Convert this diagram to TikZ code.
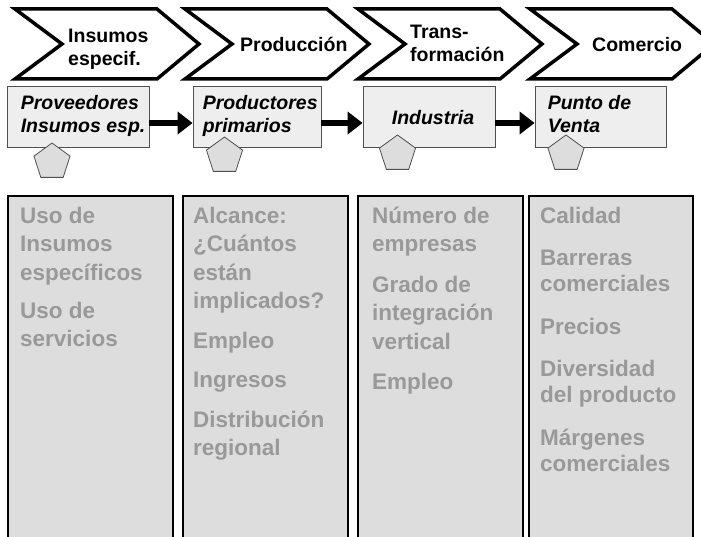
\documentclass[tikz,border=0pt]{standalone}
\usepackage{fontspec}
\setmainfont{Liberation Sans}
\usetikzlibrary{shapes.geometric,arrows.meta}
\definecolor{actorfill}{HTML}{EEEEEE}
\definecolor{panelfill}{HTML}{DDDDDD}
\definecolor{paneltext}{HTML}{999999}
\definecolor{pentborder}{HTML}{505050}
\newcommand\firstln[1]{\rule{0pt}{#1}}

\begin{document}
\begin{tikzpicture}[x=1pt, y=-1pt,
    chevron/.style={draw=black, line width=3.5pt, fill=white},
    stagelabel/.style={font=\fontsize{19.5pt}{23pt}\selectfont\bfseries, inner sep=0pt, align=left},
    actor/.style={draw=pentborder, fill=actorfill, line width=0.8pt, minimum height=61pt, inner sep=0pt},
    actorlabel/.style={font=\fontsize{19.5pt}{23pt}\selectfont\bfseries\itshape, inner sep=0pt, align=left},
    flow/.style={line width=6pt, -{Triangle[length=15pt, width=22pt]}},
    pent/.style={regular polygon, regular polygon sides=5, minimum size=38pt, inner sep=0pt,
        draw=pentborder, fill=panelfill, line width=0.8pt},
    panel/.style={draw=black, fill=panelfill, line width=1.2pt},
    itemlist/.style={font=\fontsize{22.5pt}{28.5pt}\selectfont\bfseries, text=paneltext,
        align=left, anchor=north west, inner sep=0pt}]
        \clip (0,0) rectangle (701,537);

        % Stages of the chain
        \foreach \x in {15,185,358,530}
            \draw[chevron] (\x,9) -- ++(142,0) -- ++(42,35) -- ++(-42,35) -- ++(-142,0) -- ++(47,-35) -- cycle;
        \node[stagelabel, anchor=north west] (s1) at (68,27.5) {\firstln{15pt}Insumos\\especif.};
        \node[stagelabel, anchor=base west] (s2) at (240,52) {Producción};
        \node[stagelabel, anchor=north west] (s3) at (410,23.5) {\firstln{15pt}Trans-\\formación};
        \node[stagelabel, anchor=base west] (s4) at (592,52) {Comercio};

        % Actors and flow between them
        \node[actor, minimum width=142pt] (prov) at (78,116.5) {};
        \node[actor, minimum width=128pt] (prod) at (257,116.5) {};
        \node[actor, minimum width=132pt] (ind) at (429,116.5) {};
        \node[actor, minimum width=131pt] (venta) at (600.5,116.5) {};

        \node[actorlabel, anchor=north west] (provtxt) at ([xshift=14pt,yshift=-9pt]prov.north west) {\firstln{15pt}Proveedores\\Insumos esp.};
        \node[actorlabel, anchor=north west] (prodtxt) at ([xshift=10pt,yshift=-9pt]prod.north west) {\firstln{15pt}Productores\\primarios};
        \node[actorlabel, anchor=base] (indtxt) at ([xshift=4pt,yshift=-8pt]ind.center) {Industria};
        \node[actorlabel, anchor=north west] (ventatxt) at ([xshift=13pt,yshift=-9pt]venta.north west) {\firstln{15pt}Punto de\\Venta};

        \draw[flow] ([yshift=-6.5pt]prov.east) -- ([yshift=-6.5pt]prod.west);
        \draw[flow] ([yshift=-6.5pt]prod.east) -- ([yshift=-6.5pt]ind.west);
        \draw[flow] ([yshift=-6.5pt]ind.east) -- ([yshift=-6.5pt]venta.west);

        \node[pent] (p1) at (52,162) {};
        \node[pent] (p2) at (224.5,156) {};
        \node[pent] (p3) at (397.5,154) {};
        \node[pent] (p4) at (566,154) {};

        % Indicator panels
        \draw[panel] (8,196) rectangle (173,545);
        \draw[panel] (183,196) rectangle (348,545);
        \draw[panel] (358,196) rectangle (523,545);
        \draw[panel] (529,196) rectangle (693,545);

        \node[itemlist] (uso) at (20,205) {\firstln{18pt}Uso de\\Insumos\\específicos\\[9.5pt]Uso de\\servicios};
        \node[itemlist] (alc) at (193,205) {\firstln{18pt}Alcance:\\¿Cuántos\\están\\implicados?\\[11pt]Empleo\\[11pt]Ingresos\\[11pt]Distribución\\regional};
        \node[itemlist] (num) at (372,205) {\firstln{18pt}Número de\\empresas\\[12pt]Grado de\\integración\\vertical\\[12pt]Empleo};
        \node[itemlist, font=\fontsize{22.5pt}{26pt}\selectfont\bfseries] (cal) at (540,205) {\firstln{18pt}Calidad\\[16.5pt]Barreras\\comerciales\\[16.5pt]Precios\\[16.5pt]Diversidad\\del producto\\[16.5pt]Márgenes\\comerciales};
    \end{tikzpicture}
\end{document}
